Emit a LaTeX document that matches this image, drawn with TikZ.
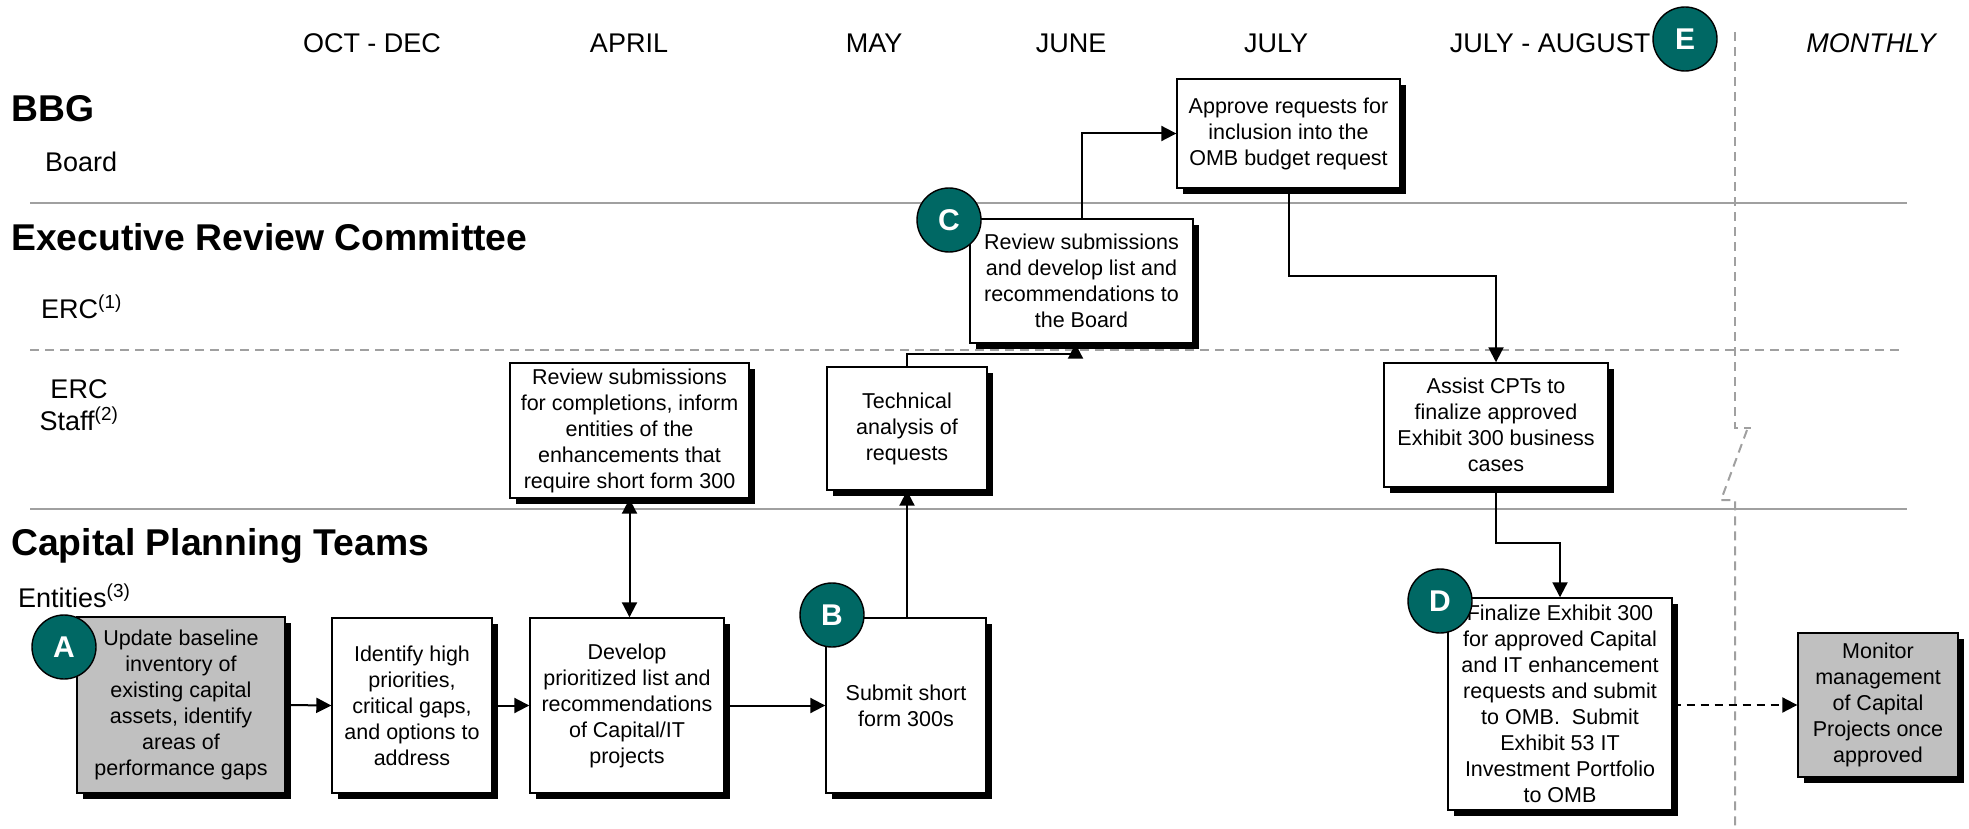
\documentclass[tikz,border=0pt]{standalone}
\usepackage{fontspec}
\setmainfont{Liberation Sans}
\usetikzlibrary{arrows.meta,shadows,calc}
\definecolor{markteal}{RGB}{0,104,100}
\definecolor{laneline}{RGB}{160,160,160}
\definecolor{stepgray}{RGB}{192,192,192}
\begin{document}
\begin{tikzpicture}[x=1pt,y=-1pt,
  month/.style={font=\fontsize{27}{32}\selectfont, inner sep=0pt},
  lanehead/.style={font=\fontsize{37.3}{40}\selectfont\bfseries, anchor=base west, inner sep=0pt},
  rolelabel/.style={font=\fontsize{27}{32}\selectfont, anchor=base west, inner sep=0pt},
  stepbox/.style={draw=black, line width=1.4pt, fill=white, align=center, inner sep=0pt,
    font=\fontsize{21.5}{26}\selectfont,
    drop shadow={shadow xshift=5.5pt, shadow yshift=-6pt, fill=black, opacity=1}},
  graybox/.style={stepbox, fill=stepgray},
  marker/.style={circle, draw=black, line width=1.4pt, fill=markteal, minimum size=64pt,
    inner sep=0pt, text=white, font=\fontsize{30}{30}\selectfont\bfseries},
  flow/.style={draw=black, line width=2pt, -{Triangle[length=15pt,width=15pt]}},
  solidlane/.style={draw=laneline, line width=2pt},
  dashlane/.style={draw=laneline, line width=2pt, dash pattern=on 9pt off 6pt}
]
\useasboundingbox (0,0) rectangle (1969,829);

% swim-lane separators
\draw[solidlane] (30,203) -- (1907,203);
\draw[dashlane]  (30,350) -- (1901,350);
\draw[solidlane] (30,509) -- (1907,509);

% boundary before the monthly column, with a break mark
\draw[dashlane] (1735,32) -- (1735,428) -- (1751,428);
\draw[dashlane] (1747,430) -- (1721,500) -- (1735,500) -- (1735,829);

% timeline headings
\node[month] (m1) at (372,43) {OCT - DEC};
\node[month] (m2) at (629,43) {APRIL};
\node[month] (m3) at (874,43) {MAY};
\node[month] (m4) at (1071,43) {JUNE};
\node[month] (m5) at (1276,43) {JULY};
\node[month] (m6) at (1550,43) {JULY - AUGUST};
\node[month, font=\fontsize{27}{32}\selectfont\itshape] (m7) at (1871,43) {MONTHLY};

% lane titles and roles
\node[lanehead] (bbg) at (11,122) {BBG};
\node[rolelabel] (board) at (45,172) {Board};
\node[lanehead] (erc) at (11,250) {Executive Review Committee};
\node[rolelabel] (ercrole) at (41,318) {ERC\textsuperscript{(1)}};
\node[rolelabel, anchor=base] (ercstaffa) at (79,398) {ERC};
\node[rolelabel, anchor=base] (ercstaffb) at (79,430) {Staff\textsuperscript{(2)}};
\node[lanehead] (cpt) at (11,555) {Capital Planning Teams};
\node[rolelabel] (entities) at (18,607) {Entities\textsuperscript{(3)}};

% process steps
\node[graybox, minimum width=208pt, minimum height=176pt] (update) at (181,705)
  {Update baseline\\inventory of\\existing capital\\assets, identify\\areas of\\performance gaps};
\node[stepbox, minimum width=160pt, minimum height=175pt] (identify) at (412,705.5)
  {Identify high\\priorities,\\critical gaps,\\and options to\\address};
\node[stepbox, minimum width=194pt, minimum height=175pt] (develop) at (627,705.5)
  {Develop\\prioritized list and\\recommendations\\of Capital/IT\\projects};
\node[stepbox, minimum width=160pt, minimum height=175pt] (submit) at (906,705.5)
  {Submit short\\form 300s};
\node[stepbox, minimum width=239pt, minimum height=135pt] (reviewl) at (629.5,430.5)
  {Review submissions\\for completions, inform\\entities of the\\enhancements that\\require short form 300};
\node[stepbox, minimum width=160pt, minimum height=123pt] (tech) at (907,428.5)
  {Technical\\analysis of\\requests};
\node[stepbox, minimum width=223pt, minimum height=124pt] (ercreview) at (1081.5,281)
  {Review submissions\\and develop list and\\recommendations to\\the Board};
\node[stepbox, minimum width=223pt, minimum height=109pt] (approve) at (1288.5,133.5)
  {Approve requests for\\inclusion into the\\OMB budget request};
\node[stepbox, minimum width=224pt, minimum height=124pt] (assist) at (1496,425)
  {Assist CPTs to\\finalize approved\\Exhibit 300 business\\cases};
\node[stepbox, minimum width=224pt, minimum height=212pt] (finalize) at (1560,704)
  {Finalize Exhibit 300\\for approved Capital\\and IT enhancement\\requests and submit\\to OMB.\ \ Submit\\Exhibit 53 IT\\Investment Portfolio\\to OMB};
\node[graybox, minimum width=160pt, minimum height=144pt] (monitor) at (1878,705)
  {Monitor\\management\\of Capital\\Projects once\\approved};

% connectors
\draw[flow] (update.east) -- (identify.west);
\draw[flow] (identify.west -| identify.east) -- (develop.west);
\draw[flow] (develop.east) -- (submit.west);
\draw[flow, {Triangle[length=15pt,width=15pt]}-{Triangle[length=15pt,width=15pt]}]
  (reviewl.south) -- (reviewl.south |- develop.north);
\draw[flow] (submit.north -| tech.south) -- (tech.south);
\draw[flow] (tech.north) -- ++(0,-12) -| ([xshift=-6pt]ercreview.south);
\draw[flow] (ercreview.north) |- (approve.west);
\draw[flow] (approve.south) |- ($(approve.south |- assist.north)!0.5!(approve.south)$) -| (assist.north);
\draw[flow] (assist.south) |- ($(assist.south)!0.5!(assist.south |- finalize.north)$) -| (finalize.north);
\draw[flow, dashed, dash pattern=on 8pt off 6pt] (monitor.west -| finalize.east) -- (monitor.west);

% milestone markers
\node[marker] (mka) at (64,647) {A};
\node[marker] (mkb) at (832,615) {B};
\node[marker] (mkc) at (949,220) {C};
\node[marker] (mkd) at (1440,601) {D};
\node[marker] (mke) at (1685,39) {E};
\end{tikzpicture}
\end{document}
